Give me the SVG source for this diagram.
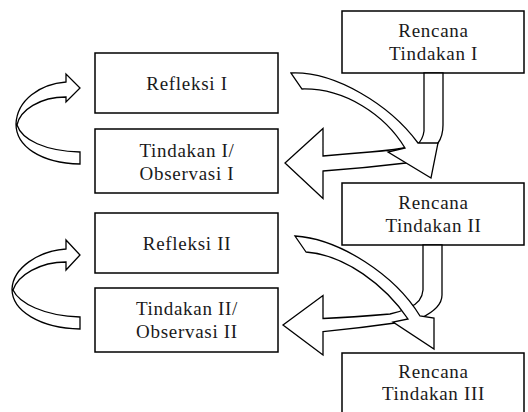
<svg xmlns="http://www.w3.org/2000/svg" width="528" height="412" viewBox="0 0 528 412">
<style>
.box{fill:#fff;stroke:#000;stroke-width:1.5}
.arr{fill:#fff;stroke:#000;stroke-width:1.3;stroke-linejoin:miter}
.t{font-family:"Liberation Serif","Times New Roman",serif;font-size:19px;letter-spacing:0.7px;fill:#1a1a1a;text-anchor:middle}
</style>
<rect width="528" height="412" fill="#fff"/>
<g id="rencana1">
<rect class="box" x="342" y="11" width="182" height="62"/>
<text class="t" x="433.5" y="37">Rencana</text>
<text class="t" x="433.5" y="60">Tindakan I</text>
</g>
<g id="refleksi1">
<rect class="box" x="95" y="53" width="183" height="60"/>
<text class="t" x="187" y="90">Refleksi I</text>
</g>
<g id="tindakan1">
<rect class="box" x="95" y="129" width="183" height="64"/>
<text class="t" x="187" y="157">Tindakan I/</text>
<text class="t" x="187" y="180">Observasi I</text>
</g>
<g id="rencana2">
<rect class="box" x="342" y="183" width="182" height="62"/>
<text class="t" x="433.5" y="209">Rencana</text>
<text class="t" x="433.5" y="232">Tindakan II</text>
</g>
<g id="refleksi2">
<rect class="box" x="95" y="213" width="183" height="60"/>
<text class="t" x="187" y="250">Refleksi II</text>
</g>
<g id="tindakan2">
<rect class="box" x="95" y="288" width="183" height="64"/>
<text class="t" x="187" y="315">Tindakan II/</text>
<text class="t" x="187" y="338">Observasi II</text>
</g>
<g id="rencana3">
<rect class="box" x="342" y="353" width="182" height="62"/>
<text class="t" x="433.5" y="378">Rencana</text>
<text class="t" x="433.5" y="400">Tindakan III</text>
</g>
<g id="connectors">
<path class="arr" d="M66,82 C40,84 17,100 16,124 C16,146 40,163 80,164 L80,152 C45,151 22,140 17,125 C20,110 40,97 66,97 L66,102 L80,88 L66,74 Z"/>
<path class="arr" d="M424,73 L424,131 Q423,140 416,146 Q395,150 370,152 Q345,154 323,156 L323,128.5 L285,163 L323,198.5 L323,171 Q365,168 406,163 Q432,157 438,143 Q443,136 443,125 L443,73 Z"/>
<path class="arr" d="M291,73 C335,71 390,105 418,143 L438,143 L431,178 L388,152 L405,148 C385,115 345,88 302,89 Z"/>
<path class="arr" d="M66,249 C38,251 13,268 12,289 C12,311 40,328 80,329 L80,317 C44,316 19,303 13,290 C18,275 40,262 66,262 L66,270 L80,255 L66,240 Z"/>
<path class="arr" d="M423,245 L423,290 Q422,302 410,307 Q400,312 390,314 Q355,317 323,318.5 L323,295.5 L283,325 L323,355 L323,331.7 Q360,328 395,323 Q416,322 421,318 Q442,308 442,295 L442,245 Z"/>
<path class="arr" d="M295,236 C340,239 395,275 420,316 L434,318 L434,349 L393,322 L408,319 C385,285 345,255 306,252 Z"/>
</g>
</svg>
